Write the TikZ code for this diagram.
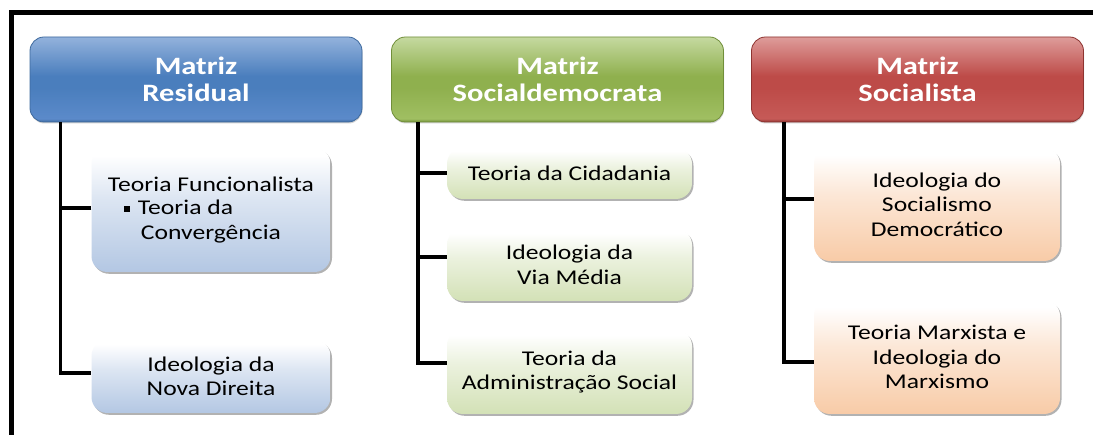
\documentclass[tikz,border=0pt]{standalone}
\usepackage{fontspec}
\setmainfont[FakeStretch=1.22]{Carlito}
\usetikzlibrary{shadows}
\definecolor{bEdge}{HTML}{3E6A9E}
\definecolor{bLow}{HTML}{5B8ACA}
\definecolor{bMid}{HTML}{4A7EBD}
\definecolor{bTop}{HTML}{93B2DC}
\definecolor{gEdge}{HTML}{718F3A}
\definecolor{gLow}{HTML}{A0BF62}
\definecolor{gMid}{HTML}{8FB04E}
\definecolor{gTop}{HTML}{C5D9A0}
\definecolor{rEdge}{HTML}{8E3431}
\definecolor{rLow}{HTML}{C65A57}
\definecolor{rMid}{HTML}{BD4B48}
\definecolor{rTop}{HTML}{DE9C9A}
\definecolor{cB}{HTML}{B3C7E3}
\definecolor{cG}{HTML}{D3E1B6}
\definecolor{cO}{HTML}{F8CBA7}
\pgfdeclareverticalshading{hblue}{100bp}{color(0bp)=(bEdge); color(25bp)=(bEdge); color(27bp)=(bLow); color(45bp)=(bMid); color(52bp)=(bMid); color(75bp)=(bTop); color(100bp)=(bTop)}
\pgfdeclareverticalshading{hgreen}{100bp}{color(0bp)=(gEdge); color(25bp)=(gEdge); color(27bp)=(gLow); color(45bp)=(gMid); color(52bp)=(gMid); color(75bp)=(gTop); color(100bp)=(gTop)}
\pgfdeclareverticalshading{hred}{100bp}{color(0bp)=(rEdge); color(25bp)=(rEdge); color(27bp)=(rLow); color(45bp)=(rMid); color(52bp)=(rMid); color(75bp)=(rTop); color(100bp)=(rTop)}
\pgfdeclareverticalshading{cblue}{100bp}{color(0bp)=(cB); color(25bp)=(cB); color(55bp)=(cB!45!white); color(72bp)=(white); color(100bp)=(white)}
\pgfdeclareverticalshading{cgreen}{100bp}{color(0bp)=(cG); color(25bp)=(cG); color(55bp)=(cG!45!white); color(72bp)=(white); color(100bp)=(white)}
\pgfdeclareverticalshading{corange}{100bp}{color(0bp)=(cO); color(25bp)=(cO); color(55bp)=(cO!45!white); color(72bp)=(white); color(100bp)=(white)}
\begin{document}
\begin{tikzpicture}[x=1pt,y=-1pt,
  hdr/.style={minimum width=332pt, minimum height=85pt, rounded corners=14pt, inner sep=0pt,
    align=center, text=white, font=\fontsize{25}{26.5}\selectfont\bfseries, line width=0.8pt,
    drop shadow={shadow xshift=0.5pt, shadow yshift=-1.5pt, opacity=0.35}},
  subbox/.style={rounded corners=16pt, inner sep=0pt, align=center,
    font=\fontsize{21}{24.5}\selectfont,
    drop shadow={shadow xshift=1.5pt, shadow yshift=-1.8pt, fill=gray, opacity=0.6}},
  conn/.style={line width=3.5pt, black},
  frame/.style={line width=5pt, black}]
\useasboundingbox (0,0) rectangle (1093,435);
\fill[white] (0,0) rectangle (1093,435);
\draw[frame] (11,435) |- (1093,13);

% headers
\node[hdr, shading=hblue, draw=bEdge] (h1) at (196,79.5) {Matriz\\Residual};
\node[hdr, shading=hgreen, draw=gEdge] (h2) at (557.5,79.5) {Matriz\\Socialdemocrata};
\node[hdr, shading=hred, draw=rEdge] (h3) at (917.5,79.5) {Matriz\\Socialista};

% left column
\node[subbox, shading=cblue, minimum width=239pt, minimum height=124pt] (c11) at (211,210)
  {Teoria Funcionalista\\[-1pt]
   \hspace*{16pt}\rule[3pt]{6pt}{5.5pt}\hspace{8pt}Teoria da\hfill\null\\
   \hspace*{33pt}Converg\^encia\hfill\null};
\node[subbox, shading=cblue, minimum width=239pt, minimum height=73pt] (c12) at (211,376.5)
  {Ideologia da\\Nova Direita};

% middle column
\node[subbox, shading=cgreen, minimum width=245pt, minimum height=51pt] (c21) at (569.5,173.5)
  {Teoria da Cidadania};
\node[subbox, shading=cgreen, minimum width=245pt, minimum height=72pt] (c22) at (569.5,265)
  {Ideologia da\\Via Média};
\node[subbox, shading=cgreen, minimum width=245pt, minimum height=84pt] (c23) at (569.5,372)
  {Teoria da\\Administração Social};

% right column
\node[subbox, shading=corange, minimum width=246pt, minimum height=113pt] (c31) at (937,204.5)
  {Ideologia do\\Socialismo\\Democrático};
\node[subbox, shading=corange, minimum width=246pt, minimum height=114pt] (c32) at (937,357)
  {Teoria Marxista e\\Ideologia do\\Marxismo};

% connectors
\coordinate (v1) at ([xshift=31pt]h1.south west);
\coordinate (v2) at ([xshift=27pt]h2.south west);
\coordinate (v3) at ([xshift=33pt]h3.south west);
\coordinate (t11) at ([yshift=2pt]c11.west);
\coordinate (t12) at ([yshift=3.5pt]c12.west);
\coordinate (t21) at ([yshift=0.5pt]c21.west);
\coordinate (t22) at ([yshift=8pt]c22.west);
\coordinate (t23) at ([yshift=9pt]c23.west);
\coordinate (t31) at ([yshift=5.5pt]c31.west);
\coordinate (t32) at ([yshift=-5pt]c32.west);
\draw[conn] (v1) |- (t12);
\draw[conn] (t11) -- (t11 -| v1);
\draw[conn] (v2) |- (t23);
\draw[conn] (t21) -- (t21 -| v2);
\draw[conn] (t22) -- (t22 -| v2);
\draw[conn] (v3) |- (t32);
\draw[conn] (t31) -- (t31 -| v3);
\end{tikzpicture}
\end{document}
